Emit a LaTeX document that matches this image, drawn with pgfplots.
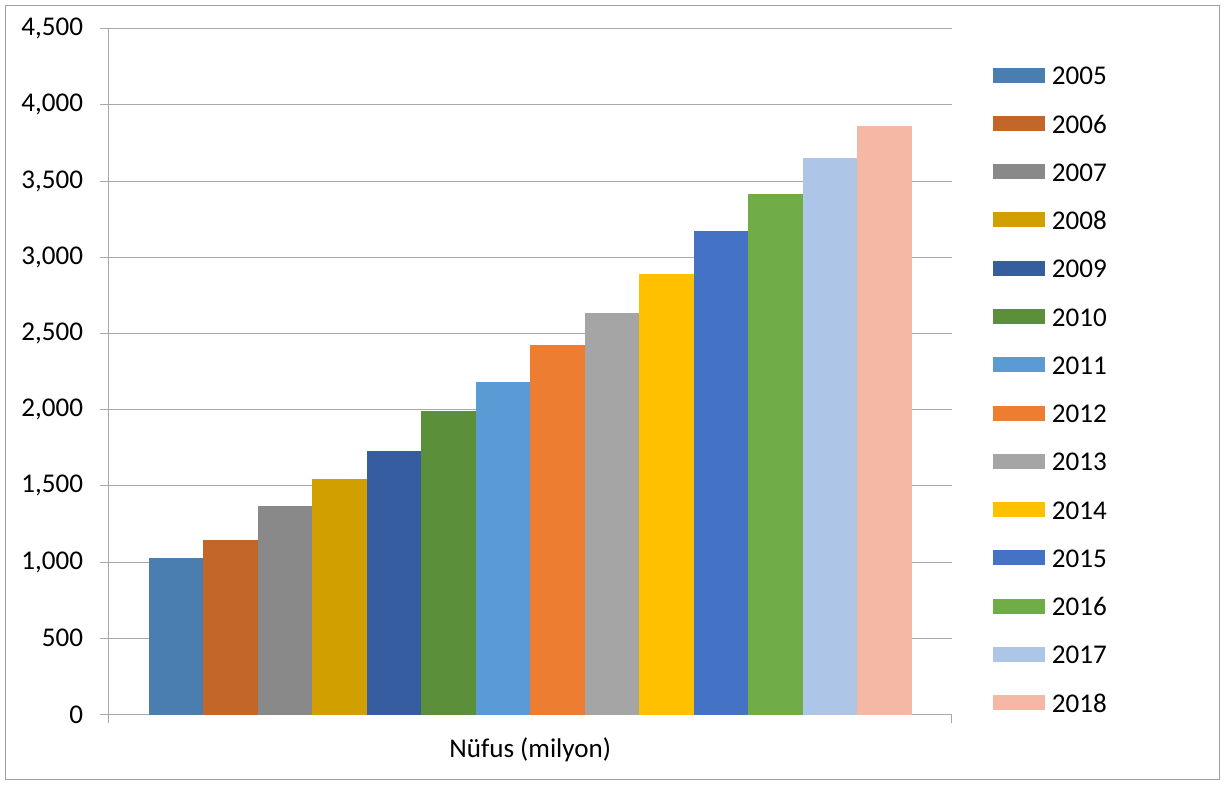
\documentclass[border=0pt]{standalone}
\usepackage{fontspec}
\setmainfont{Carlito}
\usepackage{pgfplots}
\pgfplotsset{compat=1.18}
\definecolor{c05}{HTML}{4A7EB1}
\definecolor{c06}{HTML}{C3662A}
\definecolor{c07}{HTML}{898989}
\definecolor{c08}{HTML}{D19F00}
\definecolor{c09}{HTML}{375DA1}
\definecolor{c10}{HTML}{5B8F3A}
\definecolor{c11}{HTML}{5B9BD5}
\definecolor{c12}{HTML}{ED7D31}
\definecolor{c13}{HTML}{A5A5A5}
\definecolor{c14}{HTML}{FFC000}
\definecolor{c15}{HTML}{4472C4}
\definecolor{c16}{HTML}{70AD47}
\definecolor{c17}{HTML}{ADC5E6}
\definecolor{c18}{HTML}{F4B8A4}
\definecolor{gridgray}{HTML}{A8A8A8}
\definecolor{bordergray}{HTML}{A0A0A0}
\begin{document}
\begin{tikzpicture}[font=\fontsize{20.3pt}{24pt}\selectfont]
\begin{axis}[
  at={(0,0)}, anchor=south west,
  scale only axis, width=632.6pt, height=514.4pt,
  xmin=-0.5, xmax=0.5, ymin=0, ymax=4500,
  ybar=0pt, bar width=40.875pt,
  axis x line*=bottom, axis y line*=left,
  x axis line style={-, draw=gridgray, line width=0.75pt},
  y axis line style={-, draw=gridgray, line width=0.75pt},
  ytick={0,500,...,4500},
  ymajorgrids, grid style={line width=0.75pt, draw=gridgray},
  /pgf/number format/1000 sep={,},
  /pgf/number format/assume math mode=true,
  scaled y ticks=false,
  tick align=outside, major tick length=6pt,
  tick style={draw=gridgray, line width=0.75pt},
  yticklabel style={anchor=east, inner sep=0pt, xshift=-12.9pt},
  xtick={-0.5,0.5}, xticklabels={},
  xlabel={Nüfus (milyon)},
  xlabel style={at={(rel axis cs:0.5,0)}, anchor=base, yshift=-32.1pt, inner sep=0pt},
  legend style={at={(rel axis cs:1,1)}, anchor=north west, xshift=30.75pt, yshift=-28.1pt,
    draw=none, fill=none, inner sep=0pt, outer sep=0pt, row sep=22.2pt, column sep=5.25pt,
    nodes={inner sep=0pt, text height=14pt, text depth=0pt}},
  legend cell align=left,
  every axis plot post/.append style={draw=none,
    legend image code/.code={\fill[##1] (0pt,-5.4pt) rectangle (39pt,5.85pt);}},
]
\addplot[fill=c05] coordinates {(0,1026)};
\addplot[fill=c06] coordinates {(0,1145)};
\addplot[fill=c07] coordinates {(0,1366)};
\addplot[fill=c08] coordinates {(0,1544)};
\addplot[fill=c09] coordinates {(0,1728)};
\addplot[fill=c10] coordinates {(0,1991)};
\addplot[fill=c11] coordinates {(0,2182)};
\addplot[fill=c12] coordinates {(0,2426)};
\addplot[fill=c13] coordinates {(0,2634)};
\addplot[fill=c14] coordinates {(0,2890)};
\addplot[fill=c15] coordinates {(0,3173)};
\addplot[fill=c16] coordinates {(0,3417)};
\addplot[fill=c17] coordinates {(0,3649)};
\addplot[fill=c18] coordinates {(0,3860)};
\legend{2005,2006,2007,2008,2009,2010,2011,2012,2013,2014,2015,2016,2017,2018}
\end{axis}
\draw[bordergray, line width=0.75pt] (-77.25pt,-49.1pt) rectangle (832.9pt,531.75pt);
\pgfresetboundingbox
\path[use as bounding box] (-81.375pt,-52.875pt) rectangle (836.625pt,535.875pt);
\end{tikzpicture}
\end{document}
